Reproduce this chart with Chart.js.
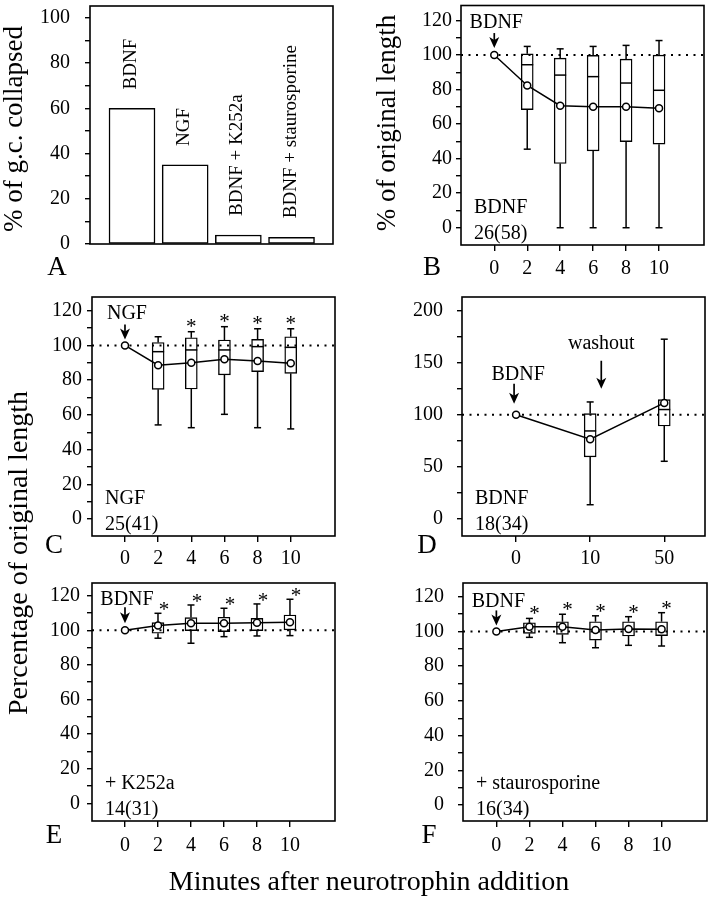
<!DOCTYPE html>
<html>
<head>
<meta charset="utf-8">
<script src="https://cdn.jsdelivr.net/npm/chart.js@4.4.1/dist/chart.umd.min.js"></script>
<style>
  body { margin: 0; background: #fff; }
  #wrap { position: relative; width: 713px; height: 900px; }
  #wrap canvas { position: absolute; left: 0; top: 0; }
</style>
</head>
<body>
<div id="wrap">
  <canvas id="panelA" width="713" height="900"></canvas>
  <canvas id="panelB" width="713" height="900"></canvas>
  <canvas id="panelC" width="713" height="900"></canvas>
  <canvas id="panelD" width="713" height="900"></canvas>
  <canvas id="panelE" width="713" height="900"></canvas>
  <canvas id="panelF" width="713" height="900"></canvas>
</div>
<script>
const SERIF = "'Liberation Serif', 'Times New Roman', serif";
Chart.defaults.font.family = SERIF;
Chart.defaults.color = "#000";

// A: growth cones collapsed
const collapseLabels = ["BDNF", "NGF", "BDNF + K252a", "BDNF + staurosporine"];
const collapsePct = [60, 35, 4, 3];
const collapseTicks = [0, 10, 20, 30, 40, 50, 60, 70, 80, 90, 100];

// shared minutes axis for B, C, E, F
const minutes = [0, 2, 4, 6, 8, 10];
const pctTicks = [0, 10, 20, 30, 40, 50, 60, 70, 80, 90, 100, 110, 120];
const baseline = 100;

// B: BDNF
const bMean = [100, 82.4, 70.7, 70.1, 70, 69.2];
const bHigh = [null, 105, 103.6, 105, 105.6, 108.4];
const bQ3 = [null, 100.7, 98.2, 99.8, 97.6, 100];
const bMed = [null, 94.4, 88.4, 87.5, 83.8, 79.6];
const bQ1 = [null, 68.4, 37.2, 44.5, 49.9, 48.4];
const bLow = [null, 45.5, 0, 0, 0, 0];

// C: NGF
const cMean = [100, 88.6, 90, 92, 91, 89.7];
const cHigh = [null, 105, 107.9, 110.8, 109.6, 109.6];
const cQ3 = [null, 101.7, 104.4, 103.1, 103.5, 105];
const cMed = [null, 96.4, 97.4, 97.4, 99.3, 98.9];
const cQ1 = [null, 74.7, 74.9, 83, 84.9, 83.9];
const cLow = [null, 54.2, 52.6, 60.3, 52.6, 51.9];
const cSig = [false, false, true, true, true, true];

// D: BDNF then washout
const washPos = [0, 1, 2];
const washLabels = ["0", "10", "50"];
const washTicks = [0, 25, 50, 75, 100, 125, 150, 175, 200];
const dMean = [100, 76.4, 111.4];
const dHigh = [null, 112.3, 172.7];
const dQ3 = [null, 101.1, 114.6];
const dMed = [null, 84.4, 105];
const dQ1 = [null, 59.4, 89.2];
const dLow = [null, 13.4, 55.2];

// E: BDNF + K252a
const eMean = [100, 102.7, 104, 104, 104.4, 104.6];
const eHigh = [null, 109.8, 114.6, 112.7, 115.2, 117.9];
const eQ3 = [null, 104.4, 107.3, 107.5, 106.9, 108.8];
const eQ1 = [null, 98.3, 99.8, 99.2, 99.8, 100.2];
const eLow = [null, 95.4, 92.5, 96.3, 96.7, 96.9];
const eSig = [false, true, true, true, true, true];

// F: BDNF + staurosporine
const fMean = [100, 102.7, 102.7, 100.8, 101.4, 101.2];
const fHigh = [null, 107.5, 109.9, 109, 108.5, 110.8];
const fQ3 = [null, 105, 105.6, 105.6, 105.6, 105.6];
const fQ1 = [null, 98.9, 98.3, 95, 97.4, 97.6];
const fLow = [null, 96.6, 93.5, 90.6, 92, 91.6];
const fSig = [false, true, true, true, true, true];

// ---- drawing helpers ----
const txt = (ctx, s, x, y, size, align = "left", base = "middle") => {
  ctx.save();
  ctx.font = `${size}px ${SERIF}`;
  ctx.fillStyle = "#000";
  ctx.textAlign = align;
  ctx.textBaseline = base;
  ctx.fillText(s, x, y);
  ctx.restore();
};
const vtxt = (ctx, s, x, y, size, align = "center") => {
  ctx.save();
  ctx.translate(x, y);
  ctx.rotate(-Math.PI / 2);
  txt(ctx, s, 0, 0, size, align, "middle");
  ctx.restore();
};
const arrow = (ctx, x, yTop, yTip) => {
  ctx.save();
  ctx.strokeStyle = "#000";
  ctx.fillStyle = "#000";
  ctx.lineWidth = 1.7;
  ctx.beginPath();
  ctx.moveTo(x, yTop);
  ctx.lineTo(x, yTip - 6);
  ctx.stroke();
  ctx.beginPath();
  ctx.moveTo(x - 5, yTip - 11);
  ctx.lineTo(x, yTip - 8);
  ctx.lineTo(x + 5, yTip - 11);
  ctx.lineTo(x, yTip);
  ctx.closePath();
  ctx.fill();
  ctx.restore();
};
const star = (ctx, x, yCenter) => txt(ctx, "*", x, yCenter + 10, 21, "center", "alphabetic");

// whiskers, caps and medians drawn right after the boxes
const drawWhiskers = (chart, st) => {
  const { ctx, scales: { x, y } } = chart;
  ctx.save();
  ctx.strokeStyle = "#000";
  ctx.lineWidth = 1.5;
  st.pos.forEach((p, i) => {
    if (st.q1[i] == null) return;
    const px = x.getPixelForValue(p);
    const line = (x0, y0, x1, y1) => {
      ctx.beginPath(); ctx.moveTo(x0, y0); ctx.lineTo(x1, y1); ctx.stroke();
    };
    const yHi = y.getPixelForValue(st.hi[i]), yLo = y.getPixelForValue(st.lo[i]);
    line(px, y.getPixelForValue(st.q3[i]), px, yHi);
    line(px - 3.5, yHi, px + 3.5, yHi);
    line(px, y.getPixelForValue(st.q1[i]), px, yLo);
    line(px - 3.5, yLo, px + 3.5, yLo);
    if (st.med && st.med[i] != null) {
      const ym = y.getPixelForValue(st.med[i]);
      line(px - 6, ym, px + 6, ym);
    }
  });
  ctx.restore();
};

const boxSets = (st, mean, xr) => [
  {
    type: "bar", order: 3,
    data: st.pos.map((p, i) => st.q1[i] == null ? null : { x: p, y: [st.q1[i], st.q3[i]] }).filter(Boolean),
    barThickness: 12, backgroundColor: "#fff", borderColor: "#000", borderWidth: 1.4, borderSkipped: false
  },
  {
    type: "line", order: 2,
    data: [{ x: xr[0], y: baseline }, { x: xr[1], y: baseline }],
    borderColor: "#000", borderWidth: 2, borderDash: [2, 5.5], pointRadius: 0
  },
  {
    type: "line", order: 1,
    data: st.pos.map((p, i) => ({ x: p, y: mean[i] })),
    borderColor: "#000", borderWidth: 1.5,
    pointRadius: 3.5, pointBorderWidth: 1.5, pointBackgroundColor: "#fff", pointBorderColor: "#000"
  }
];

// one full-size transparent canvas per panel; chart area pinned to the frame
function panel(id, frame, xa, ya, datasets, stats, extras) {
  const yW = 60, xH = 40;
  return new Chart(document.getElementById(id), {
    type: "bar",
    data: { datasets },
    options: {
      responsive: false,
      animation: false,
      events: [],
      layout: { padding: { left: frame.l - yW, top: frame.t, right: 713 - frame.r, bottom: 900 - frame.b - xH } },
      plugins: { legend: { display: false }, tooltip: { enabled: false } },
      scales: {
        x: {
          type: "linear", min: xa.min, max: xa.max, offset: false,
          border: { display: false },
          grid: { offset: false, drawOnChartArea: false, drawTicks: xa.ticks.length > 0, tickLength: 6, color: "#000", lineWidth: 1.4 },
          afterBuildTicks: s => { s.ticks = xa.ticks.map(v => ({ value: v })); },
          afterFit: s => { s.height = xH; s.paddingLeft = 0; s.paddingRight = 0; },
          ticks: {
            display: xa.ticks.length > 0, autoSkip: false, maxRotation: 0, padding: xa.pad,
            font: { size: 20 }, color: "#000", callback: xa.label
          }
        },
        y: {
          type: "linear", min: ya.min, max: ya.max,
          border: { display: false },
          grid: { drawOnChartArea: false, tickLength: 5, color: "#000", lineWidth: 1.4 },
          afterBuildTicks: s => { s.ticks = ya.ticks.map(v => ({ value: v })); },
          afterFit: s => { s.width = yW; s.paddingTop = 0; s.paddingBottom = 0; },
          ticks: {
            autoSkip: false, padding: ya.pad, font: { size: 20 }, color: "#000",
            callback: v => (v % ya.major === 0 ? String(v) : "")
          }
        }
      }
    },
    plugins: [{
      id: "frameAndExtras",
      beforeDatasetsDraw(c) {
        const { ctx, chartArea: a } = c;
        ctx.save();
        ctx.strokeStyle = "#000";
        ctx.lineWidth = 1.6;
        ctx.strokeRect(a.left, a.top, a.right - a.left, a.bottom - a.top);
        ctx.restore();
      },
      afterDatasetDraw(c, args) {
        if (stats && args.meta.type === "bar") drawWhiskers(c, stats);
      },
      afterDraw(c) { extras(c); }
    }]
  });
}

const startMark = (c, label, textUp, arrowTop, arrowTip) => {
  const { ctx, scales: { x, y } } = c;
  const px = x.getPixelForValue(0), py = y.getPixelForValue(baseline);
  arrow(ctx, px, py - arrowTop, py - arrowTip);
  txt(ctx, label, px + 2, py - textUp, 20, "center");
};
const cornerNote = (c, l1, l2) => {
  const a = c.chartArea;
  txt(c.ctx, l1, a.left + 13, a.bottom - 37, 20);
  txt(c.ctx, l2, a.left + 13, a.bottom - 11, 20);
};
const stars = (c, st, sig, dx, dy) => {
  const { ctx, scales: { x, y } } = c;
  st.pos.forEach((p, i) => {
    if (sig[i]) star(ctx, x.getPixelForValue(p) + dx, y.getPixelForValue(st.hi[i]) - dy);
  });
};
const minuteLabel = v => String(v);

// ---- A ----
panel("panelA", { l: 90, t: 6, r: 333, b: 244 },
  { min: -0.79, max: 3.78, ticks: [], label: () => "", pad: 2 },
  { min: 0, max: 105.3, ticks: collapseTicks, major: 20, pad: 15 },
  [{
    type: "bar",
    data: collapsePct.map((v, i) => ({ x: i, y: v })),
    barThickness: 46, backgroundColor: "#fff", borderColor: "#000", borderWidth: 1.5, borderSkipped: false
  }],
  null,
  c => {
    const { ctx, scales: { x, y } } = c;
    collapseLabels.forEach((s, i) => vtxt(ctx, s, x.getPixelForValue(i) - 1, y.getPixelForValue(collapsePct[i]) - 19, 19, "left"));
    vtxt(ctx, "% of g.c. collapsed", 15, 129, 27);
    txt(ctx, "A", 57, 275, 27, "center", "alphabetic");
  });

// ---- B ----
const bStats = { pos: minutes, lo: bLow, q1: bQ1, med: bMed, q3: bQ3, hi: bHigh };
panel("panelB", { l: 461, t: 5, r: 704, b: 245 },
  { min: -2.02, max: 12.73, ticks: minutes, label: minuteLabel, pad: 6 },
  { min: -10, max: 128.7, ticks: pctTicks, major: 20, pad: 4 },
  boxSets(bStats, bMean, [-2.02, 12.73]), bStats,
  c => {
    startMark(c, "BDNF", 32, 22, 7);
    cornerNote(c, "BDNF", "26(58)");
    vtxt(c.ctx, "% of original length", 388, 123, 27);
    txt(c.ctx, "B", 432, 275, 27, "center", "alphabetic");
  });

// ---- C ----
const cStats = { pos: minutes, lo: cLow, q1: cQ1, med: cMed, q3: cQ3, hi: cHigh };
panel("panelC", { l: 92, t: 297, r: 335, b: 536 },
  { min: -1.99, max: 12.67, ticks: minutes, label: minuteLabel, pad: 5 },
  { min: -9.8, max: 127.9, ticks: pctTicks, major: 20, pad: 5 },
  boxSets(cStats, cMean, [-1.99, 12.67]), cStats,
  c => {
    startMark(c, "NGF", 32, 21, 6);
    cornerNote(c, "NGF", "25(41)");
    stars(c, cStats, cSig, 0, 9);
    vtxt(c.ctx, "Percentage of original length", 20, 553, 28);
    txt(c.ctx, "C", 54, 553, 27, "center", "alphabetic");
  });

// ---- D ----
const dStats = { pos: washPos, lo: dLow, q1: dQ1, med: dMed, q3: dQ3, hi: dHigh };
panel("panelD", { l: 462, t: 297, r: 705, b: 536 },
  { min: -0.73, max: 2.55, ticks: washPos, label: v => washLabels[washPos.indexOf(v)], pad: 5 },
  { min: -16.7, max: 213.3, ticks: washTicks, major: 50, pad: 14 },
  boxSets(dStats, dMean, [-0.73, 2.55]), dStats,
  c => {
    const { ctx, scales: { x, y } } = c;
    const px = x.getPixelForValue(0), py = y.getPixelForValue(baseline);
    arrow(ctx, px - 2, py - 31, py - 11);
    txt(ctx, "BDNF", px + 2, py - 40, 20, "center");
    const wx = x.getPixelForValue(1.15), wy = y.getPixelForValue(125);
    arrow(ctx, wx, wy - 28, wy);
    txt(ctx, "washout", wx, wy - 45, 20, "center");
    cornerNote(c, "BDNF", "18(34)");
    txt(ctx, "D", 427, 553, 27, "center", "alphabetic");
  });

// ---- E ----
const eStats = { pos: minutes, lo: eLow, q1: eQ1, med: null, q3: eQ3, hi: eHigh };
panel("panelE", { l: 92, t: 583, r: 335, b: 821 },
  { min: -2.0, max: 12.73, ticks: minutes, label: minuteLabel, pad: 7 },
  { min: -10.2, max: 127.3, ticks: pctTicks, major: 20, pad: 7 },
  boxSets(eStats, eMean, [-2.0, 12.73]), eStats,
  c => {
    startMark(c, "BDNF", 31, 23, 7);
    cornerNote(c, "+ K252a", "14(31)");
    stars(c, eStats, eSig, 6, 7);
    txt(c.ctx, "E", 54, 843, 27, "center", "alphabetic");
    txt(c.ctx, "Minutes after neurotrophin addition", 369, 890, 28, "center", "alphabetic");
  });

// ---- F ----
const fStats = { pos: minutes, lo: fLow, q1: fQ1, med: null, q3: fQ3, hi: fHigh };
panel("panelF", { l: 463, t: 583, r: 707, b: 821 },
  { min: -2.02, max: 12.75, ticks: minutes, label: minuteLabel, pad: 7 },
  { min: -9.2, max: 127.9, ticks: pctTicks, major: 20, pad: 14 },
  boxSets(fStats, fMean, [-2.02, 12.75]), fStats,
  c => {
    startMark(c, "BDNF", 30, 21, 6);
    cornerNote(c, "+ staurosporine", "16(34)");
    stars(c, fStats, fSig, 5, 8);
    txt(c.ctx, "F", 429, 843, 27, "center", "alphabetic");
  });
</script>
</body>
</html>
